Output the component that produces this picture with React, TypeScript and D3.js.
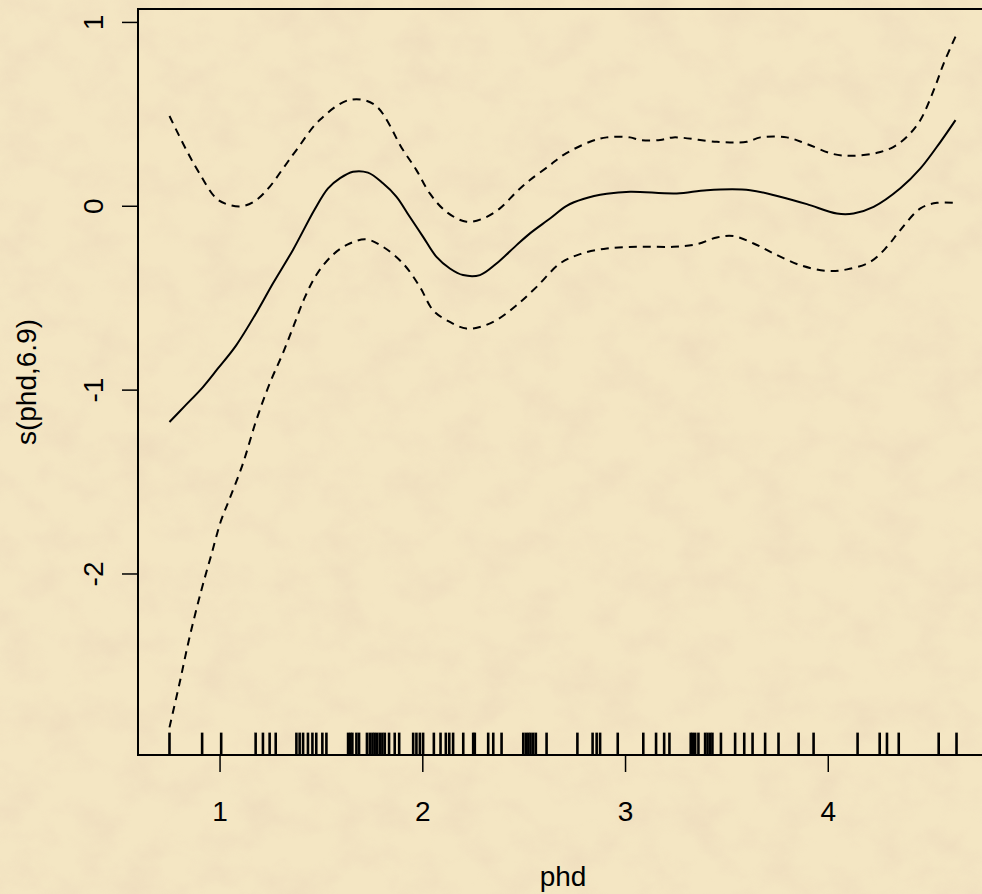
import React, { useEffect, useRef } from "react";
import * as d3 from "d3";

// observed phd values (rug)
const rugValues = [
  0.753, 0.914, 1.008, 1.178, 1.214, 1.247, 1.277, 1.379, 1.395, 1.412, 1.436, 1.458, 1.477, 1.507,
  1.527, 1.634, 1.645, 1.655, 1.675, 1.688, 1.727, 1.741, 1.754, 1.765, 1.777, 1.79, 1.803, 1.815,
  1.836, 1.864, 1.886, 1.955, 1.971, 1.988, 2.004, 2.057, 2.09, 2.116, 2.133, 2.152, 2.202, 2.251,
  2.259, 2.325, 2.35, 2.391, 2.498, 2.511, 2.523, 2.534, 2.547, 2.56, 2.613, 2.765, 2.84, 2.86,
  2.877, 2.964, 3.09, 3.153, 3.193, 3.219, 3.324, 3.334, 3.346, 3.362, 3.395, 3.407, 3.42, 3.431,
  3.473, 3.543, 3.588, 3.629, 3.691, 3.757, 3.856, 3.93, 4.147, 4.256, 4.292, 4.35, 4.547, 4.635,
];

// smooth term s(phd, 6.9)
const fitCurve: [number, number][] = [
  [0.753, -1.176], [0.827, -1.091], [0.918, -0.986], [0.992, -0.885], [1.082, -0.759],
  [1.189, -0.568], [1.263, -0.423], [1.362, -0.24], [1.469, -0.02],
  [1.535, 0.095], [1.593, 0.149], [1.658, 0.185], [1.732, 0.18], [1.806, 0.122], [1.873, 0.049],
  [1.938, -0.06], [2.004, -0.169], [2.07, -0.278], [2.136, -0.341], [2.201, -0.377],
  [2.284, -0.377], [2.366, -0.314], [2.465, -0.214], [2.531, -0.15], [2.63, -0.069],
  [2.712, 0.0], [2.794, 0.037], [2.91, 0.065], [3.025, 0.076], [3.255, 0.067], [3.404, 0.085],
  [3.617, 0.085], [3.765, 0.049], [3.897, 0.009], [4.045, -0.042], [4.127, -0.042],
  [4.226, -0.006], [4.358, 0.095], [4.457, 0.203], [4.556, 0.348], [4.63, 0.466],
];

// upper and lower 2 s.e. bands
const upperBand: [number, number][] = [
  [0.753, 0.488], [0.836, 0.304], [0.901, 0.176], [0.984, 0.04], [1.049, 0.004], [1.115, -0.002],
  [1.181, 0.031], [1.247, 0.103], [1.313, 0.203], [1.379, 0.303], [1.494, 0.467], [1.642, 0.576],
  [1.765, 0.549], [1.905, 0.303], [1.971, 0.194], [2.037, 0.067], [2.119, -0.033], [2.218, -0.087],
  [2.3, -0.069], [2.383, -0.014], [2.465, 0.076], [2.531, 0.14], [2.63, 0.221], [2.695, 0.276],
  [2.827, 0.348], [2.91, 0.372], [3.025, 0.372], [3.074, 0.358], [3.173, 0.358], [3.239, 0.372],
  [3.453, 0.348], [3.601, 0.348], [3.667, 0.372], [3.798, 0.372], [3.897, 0.336], [4.029, 0.281],
  [4.127, 0.272], [4.243, 0.288], [4.325, 0.321], [4.391, 0.376], [4.457, 0.467], [4.523, 0.63],
  [4.572, 0.775], [4.63, 0.92],
];

const lowerBand: [number, number][] = [
  [0.753, -2.837], [0.802, -2.6], [0.852, -2.347], [0.91, -2.092], [0.959, -1.9], [1.008, -1.71],
  [1.049, -1.595], [1.115, -1.403], [1.181, -1.167], [1.247, -0.967], [1.313, -0.8], [1.37, -0.64],
  [1.42, -0.5], [1.478, -0.375], [1.56, -0.265], [1.642, -0.205], [1.724, -0.183], [1.806, -0.223],
  [1.905, -0.314], [1.988, -0.441], [2.053, -0.568], [2.136, -0.632], [2.218, -0.668], [2.284, -0.659],
  [2.366, -0.622], [2.465, -0.541], [2.564, -0.441], [2.679, -0.314], [2.778, -0.263], [2.91, -0.232],
  [3.074, -0.223], [3.239, -0.223], [3.354, -0.209], [3.453, -0.172], [3.535, -0.165], [3.634, -0.205],
  [3.732, -0.259], [3.864, -0.323], [3.996, -0.354], [4.095, -0.346], [4.21, -0.305], [4.292, -0.223],
  [4.358, -0.132], [4.457, -0.014], [4.539, 0.016], [4.621, 0.016],
];

const xTicks = [1, 2, 3, 4];
const yTicks = [-2, -1, 0, 1];

const FONT = "'Liberation Sans', Arial, sans-serif";

const App = () => {
  const ref = useRef<SVGSVGElement>(null);

  useEffect(() => {
    const root = d3.select(ref.current);
    root.selectAll("*").remove();

    const width = 982;
    const height = 894;
    const box = { left: 138, top: 9, right: 988, bottom: 755 };

    // parchment background
    const defs = root.append("defs");
    const f = defs.append("filter").attr("id", "paper").attr("x", 0).attr("y", 0).attr("width", "100%").attr("height", "100%");
    f.append("feTurbulence").attr("type", "fractalNoise").attr("baseFrequency", "0.025 0.03").attr("numOctaves", 4).attr("seed", 7);
    f.append("feColorMatrix")
      .attr("type", "matrix")
      .attr("values", "0 0 0 0 0.84  0 0 0 0 0.69  0 0 0 0 0.50  1.8 0 0 0 -0.72");
    root.append("rect").attr("width", width).attr("height", height).attr("fill", "#f4e6c3");
    root.append("rect").attr("width", width).attr("height", height).attr("filter", "url(#paper)").attr("opacity", 0.6);

    // R style 4% padding on the data range
    const xExt = d3.extent(rugValues) as [number, number];
    const allY = [...fitCurve, ...upperBand, ...lowerBand].map((d) => d[1]);
    const yExt = d3.extent(allY) as [number, number];
    const xPad = (xExt[1] - xExt[0]) * 0.04;
    const yPad = (yExt[1] - yExt[0]) * 0.04;

    const x = d3.scaleLinear().domain([xExt[0] - xPad, xExt[1] + xPad]).range([box.left, box.right]);
    const y = d3.scaleLinear().domain([yExt[0] - yPad, yExt[1] + yPad]).range([box.bottom, box.top]);

    const svg = root.append("g");

    // axes (R prints a plain hyphen for negatives)
    const fmt = (d: d3.NumberValue) => String(d);

    const xAxis = svg
      .append("g")
      .attr("transform", `translate(0,${box.bottom})`)
      .call(d3.axisBottom(x).tickValues(xTicks).tickSize(17).tickFormat(fmt));
    xAxis.select(".domain").remove();
    xAxis.selectAll("line").attr("stroke", "#000").attr("stroke-width", 1.5);
    xAxis.selectAll("text").attr("y", 66).attr("dy", 0).attr("fill", "#000")
      .style("font-size", "28px").style("font-family", FONT);

    const yAxis = svg
      .append("g")
      .attr("transform", `translate(${box.left},0)`)
      .call(d3.axisLeft(y).tickValues(yTicks).tickSize(16).tickFormat(fmt));
    yAxis.select(".domain").remove();
    yAxis.selectAll("line").attr("stroke", "#000").attr("stroke-width", 1.5);
    yAxis.selectAll("text")
      .attr("x", 0).attr("y", -35).attr("dy", 0)
      .attr("transform", "rotate(-90)")
      .attr("text-anchor", "middle").attr("fill", "#000")
      .style("font-size", "28px").style("font-family", FONT);

    // box
    svg.append("rect")
      .attr("x", box.left).attr("y", box.top)
      .attr("width", box.right - box.left).attr("height", box.bottom - box.top)
      .attr("fill", "none").attr("stroke", "#000").attr("stroke-width", 2);

    // curves
    const line = d3.line<[number, number]>()
      .x((d) => x(d[0]))
      .y((d) => y(d[1]))
      .curve(d3.curveCatmullRom.alpha(0.5));

    svg.append("path").datum(fitCurve).attr("d", line).attr("fill", "none")
      .attr("stroke", "#000").attr("stroke-width", 2);
    [upperBand, lowerBand].forEach((band) => {
      svg.append("path").datum(band).attr("d", line).attr("fill", "none")
        .attr("stroke", "#000").attr("stroke-width", 2).attr("stroke-dasharray", "8,6");
    });

    // rug
    const rugLen = (box.bottom - box.top) * 0.03;
    svg.selectAll(".rug").data(rugValues).enter().append("line")
      .attr("class", "rug")
      .attr("x1", (d) => x(d)).attr("x2", (d) => x(d))
      .attr("y1", box.bottom).attr("y2", box.bottom - rugLen)
      .attr("stroke", "#000").attr("stroke-width", 2.6);

    // axis titles
    svg.append("text")
      .attr("x", (box.left + box.right) / 2).attr("y", 886)
      .attr("text-anchor", "middle")
      .style("font-size", "28px").style("font-family", FONT)
      .text("phd");

    svg.append("text")
      .attr("transform", `translate(36,${(box.top + box.bottom) / 2}) rotate(-90)`)
      .attr("text-anchor", "middle")
      .style("font-size", "28px").style("font-family", FONT)
      .text("s(phd,6.9)");
  }, []);

  return <svg ref={ref} width={982} height={894} style={{ position: "absolute", left: 0, top: 0 }} />;
};

export default App;
